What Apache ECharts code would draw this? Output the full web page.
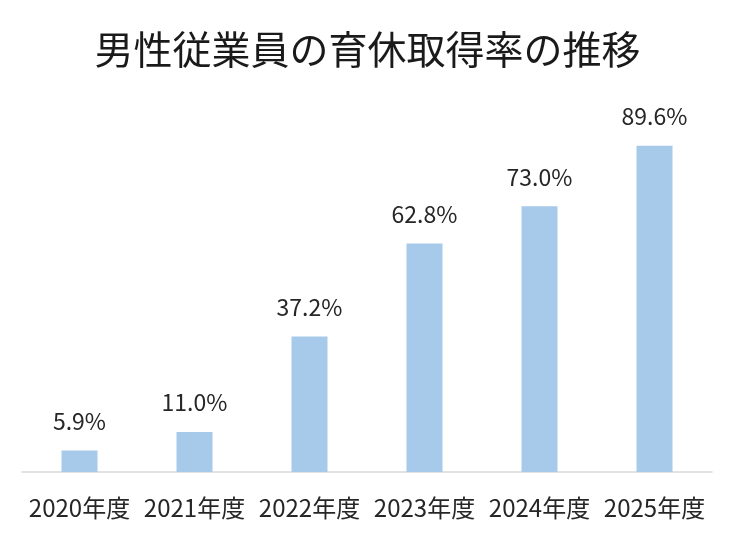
<!DOCTYPE html>
<html>
<head>
<meta charset="utf-8">
<script src="https://cdn.jsdelivr.net/npm/echarts@6/dist/echarts.min.js"></script>
<style>
  html, body { margin: 0; padding: 0; background: #fff; }
  #main { width: 735px; height: 545px; }
</style>
</head>
<body>
<div id="main"></div>
<script>
// データ
var years = ['2020年度', '2021年度', '2022年度', '2023年度', '2024年度', '2025年度'];
var rates = [5.9, 11.0, 37.2, 62.8, 73.0, 89.6];

var chart = echarts.init(document.getElementById('main'));
var font = '"Noto Sans CJK JP", "Noto Sans", sans-serif';

var option = {
  animation: false,
  title: {
    left: 'center',
    top: 25,
    text: '男性従業員の育休取得率の推移',
    textStyle: { fontFamily: font, fontSize: 39, fontWeight: 'normal', color: '#1a1a1a' }
  },
  grid: { left: 22, right: 23, top: 108, bottom: 73 },
  xAxis: {
    type: 'category',
    data: years,
    axisLine: { lineStyle: { color: '#d9d9d9', width: 1.5 } },
    axisTick: { show: false },
    axisLabel: { interval: 0, margin: 24, fontFamily: font, fontSize: 24, color: '#262626' }
  },
  yAxis: {
    type: 'value',
    min: 0,
    max: 100,
    show: false
  },
  series: [{
    type: 'bar',
    data: rates,
    barWidth: 36,
    itemStyle: { color: '#a7c9ea' },
    label: {
      show: true,
      position: 'top',
      distance: 18,
      fontFamily: font,
      fontSize: 23,
      color: '#262626',
      formatter: function (p) { return p.value.toFixed(1) + '%'; }
    }
  }]
};

chart.setOption(option);
</script>
</body>
</html>
